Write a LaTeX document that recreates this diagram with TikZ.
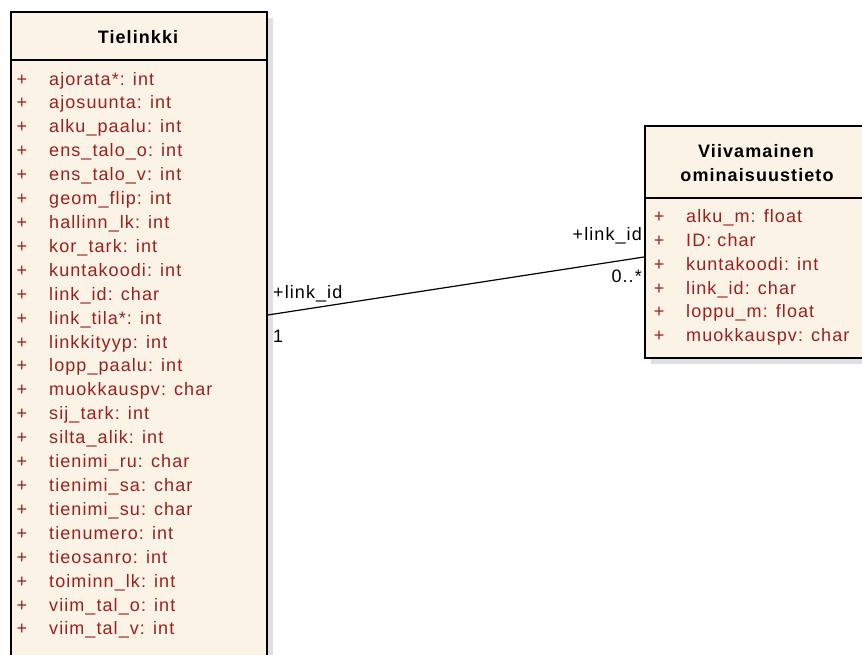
\documentclass[tikz,border=0pt]{standalone}
\usepackage{fontspec}
\setmainfont{Liberation Sans}[LetterSpace=6]
\usetikzlibrary{calc,positioning}
\definecolor{classfill}{RGB}{252,243,231}
\definecolor{attrred}{RGB}{155,32,32}
\definecolor{shadowgray}{RGB}{224,224,224}
\def\umlsize{\fontsize{18}{21}\selectfont}
\def\attrrow(#1,#2)#3#4{\node[attrplus] (#3p) at (#1,#2) {+}; \node[attrtext] (#3) at ($(#1,#2)+(27,0)$) {#4};}
\tikzset{
	classbox/.style={draw=black, line width=1.8pt, fill=classfill, inner sep=0pt, anchor=north west},
	classshadow/.style={fill=shadowgray, inner sep=0pt, anchor=north west},
	divider/.style={line width=1.4pt},
	classname/.style={anchor=base, inner sep=0pt, font=\bfseries\umlsize},
	attrplus/.style={anchor=base, inner sep=0pt, text=attrred, font=\umlsize},
	attrtext/.style={anchor=base west, inner sep=0pt, text=attrred, font=\umlsize},
	rolelabel/.style={inner sep=0pt, font=\umlsize},
	assoc/.style={line width=1.2pt}
}

\begin{document}
\begin{tikzpicture}[x=1pt,y=-1pt]
		%%%%% START %%%%%
		\useasboundingbox (0,0) rectangle (862,654);
		\clip (0,0) rectangle (862,654);
		
		% Tielinkki
		\node[classshadow, minimum width=256pt, minimum height=700pt] (tielinkkishadow) at (17,18) {};
		\node[classbox, minimum width=256pt, minimum height=700pt] (tielinkki) at (10,11) {};
		\draw[divider] ($(tielinkki.north west)+(0,49)$) -- ($(tielinkki.north east)+(0,49)$);
		\node[classname] (tielinkkiname) at (138,43) {Tielinkki};
		
		\attrrow(22,85.0){t1}{ajorata*: int}
		\attrrow(22,108.9){t2}{ajosuunta: int}
		\attrrow(22,132.8){t3}{alku\_paalu: int}
		\attrrow(22,156.7){t4}{ens\_talo\_o: int}
		\attrrow(22,180.6){t5}{ens\_talo\_v: int}
		\attrrow(22,204.6){t6}{geom\_flip: int}
		\attrrow(22,228.5){t7}{hallinn\_lk: int}
		\attrrow(22,252.4){t8}{kor\_tark: int}
		\attrrow(22,276.3){t9}{kuntakoodi: int}
		\attrrow(22,300.2){t10}{link\_id: char}
		\attrrow(22,324.1){t11}{link\_tila*: int}
		\attrrow(22,348.0){t12}{linkkityyp: int}
		\attrrow(22,371.9){t13}{lopp\_paalu: int}
		\attrrow(22,395.8){t14}{muokkauspv: char}
		\attrrow(22,419.7){t15}{sij\_tark: int}
		\attrrow(22,443.7){t16}{silta\_alik: int}
		\attrrow(22,467.6){t17}{tienimi\_ru: char}
		\attrrow(22,491.5){t18}{tienimi\_sa: char}
		\attrrow(22,515.4){t19}{tienimi\_su: char}
		\attrrow(22,539.3){t20}{tienumero: int}
		\attrrow(22,563.2){t21}{tieosanro: int}
		\attrrow(22,587.1){t22}{toiminn\_lk: int}
		\attrrow(22,611.0){t23}{viim\_tal\_o: int}
		\attrrow(22,634.9){t24}{viim\_tal\_v: int}
		
		% Viivamainen ominaisuustieto
		\node[classshadow, minimum width=226pt, minimum height=232pt] (viivashadow) at (651,132) {};
		\node[classbox, minimum width=226pt, minimum height=232pt] (viiva) at (644,125) {};
		\draw[divider] ($(viiva.north west)+(0,73)$) -- ($(viiva.north east)+(0,73)$);
		\node[classname] (viivaname1) at (756,157.5) {Viivamainen};
		\node[classname] (viivaname2) at (757,181) {ominaisuustieto};
		
		\attrrow(659,222.7){v1}{alku\_m: float}
		\attrrow(659,246.5){v2}{ID: char}
		\attrrow(659,270.3){v3}{kuntakoodi: int}
		\attrrow(659,294.1){v4}{link\_id: char}
		\attrrow(659,317.9){v5}{loppu\_m: float}
		\attrrow(659,341.7){v6}{muokkauspv: char}
		
		% association
		\coordinate (assocL) at (0,315);
		\coordinate (assocR) at (0,257);
		\draw[assoc] (tielinkki.east |- assocL) -- (viiva.west |- assocR);
		\node[rolelabel, anchor=base west] (roleL) at (273,298) {+link\_id};
		\node[rolelabel, anchor=base west] (multL) at (273,342) {1};
		\node[rolelabel, anchor=base east] (roleR) at (642,240) {+link\_id};
		\node[rolelabel, anchor=base east] (multR) at (642,282) {0..*};
		%%%%% END %%%%%
	\end{tikzpicture}
\end{document}
